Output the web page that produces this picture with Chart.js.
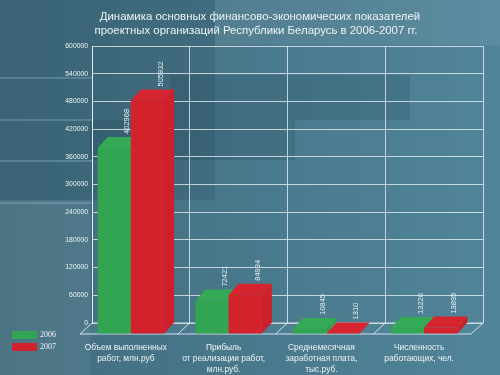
<!DOCTYPE html>
<html>
<head>
<meta charset="utf-8">
<script src="https://cdn.jsdelivr.net/npm/chart.js@4.4.1/dist/chart.umd.min.js"></script>
<style>
  html, body { margin: 0; padding: 0; background: #48788c; }
  #wrap { width: 500px; height: 375px; position: relative; }
</style>
</head>
<body>
<div id="wrap"><canvas id="chart" width="500" height="375"></canvas></div>
<script>
var titleLines = [
  "Динамика основных финансово-экономических показателей",
  "проектных организаций Республики Беларусь в 2006-2007 гг."
];
var categories = [
  ["Объем выполненных", "работ, млн.руб"],
  ["Прибыль", "от реализации работ,", "млн.руб."],
  ["Среднемесячная", "заработная плата,", "тыс.руб."],
  ["Численность", "работающих, чел."]
];
var years = ["2006", "2007"];
var values2006 = [402968, 72421, 10845, 13220];
var values2007 = [505932, 84934, 1310, 13895];
var yTicks = [0, 60000, 120000, 180000, 240000, 300000, 360000, 420000, 480000, 540000, 600000];

var DX = 10;
var DY = 11;
var FRONT = ["#31a552", "#d3222c"];
var TOP = ["#34a956", "#d6252f"];
var SIDE = ["#2f9f4f", "#cd202a"];

var backgroundPlugin = {
  id: "bg",
  beforeDraw: function (chart) {
    var ctx = chart.ctx;
    ctx.save();
    var g = ctx.createLinearGradient(0, 0, 500, 0);
    g.addColorStop(0, "#416c7e");
    g.addColorStop(1, "#518599");
    ctx.fillStyle = g;
    ctx.fillRect(0, 0, 500, 375);
    ctx.fillStyle = "rgba(30,60,75,0.18)";
    ctx.fillRect(0, 0, 215, 200);
    ctx.fillRect(170, 75, 240, 45);
    ctx.fillRect(90, 120, 205, 40);
    ctx.fillStyle = "rgba(255,255,255,0.06)";
    ctx.fillRect(215, 0, 285, 45);
    ctx.fillRect(0, 200, 90, 175);
    ctx.fillStyle = "rgba(170,215,230,0.25)";
    ctx.fillRect(0, 77, 92, 2);
    ctx.fillRect(0, 119, 92, 2);
    ctx.fillRect(0, 160, 92, 2);
    ctx.fillRect(0, 202, 92, 2);
    ctx.restore();
  }
};

var titlePlugin = {
  id: "titleText",
  afterDraw: function (chart) {
    var ctx = chart.ctx;
    ctx.save();
    ctx.fillStyle = "#eef3f5";
    ctx.font = "11.4px 'Liberation Sans', Arial, sans-serif";
    ctx.textAlign = "center";
    ctx.textBaseline = "middle";
    ctx.fillText(titleLines[0], 260, 17);
    ctx.fillText(titleLines[1], 256, 31);
    ctx.restore();
  }
};

var floorPlugin = {
  id: "floor",
  beforeDatasetsDraw: function (chart) {
    var ctx = chart.ctx;
    var a = chart.chartArea;
    var yb = chart.scales.y.getPixelForValue(0);
    ctx.save();
    ctx.fillStyle = "rgba(90,140,160,0.25)";
    ctx.strokeStyle = "rgba(235,245,250,0.85)";
    ctx.lineWidth = 1;
    ctx.beginPath();
    ctx.moveTo(a.left, yb);
    ctx.lineTo(a.right, yb);
    ctx.lineTo(a.right - DX - 2, yb + DY);
    ctx.lineTo(a.left - DX - 2, yb + DY);
    ctx.closePath();
    ctx.fill();
    ctx.stroke();
    var step = (a.right - a.left) / categories.length;
    for (var i = 1; i < categories.length * 2; i++) {
      var x = a.left + step * i / 2;
      ctx.beginPath();
      ctx.moveTo(x, yb);
      ctx.lineTo(x - DX - 2, yb + DY);
      ctx.stroke();
    }
    ctx.restore();
  }
};

var bar3dPlugin = {
  id: "bar3d",
  afterDatasetsDraw: function (chart) {
    var ctx = chart.ctx;
    ctx.save();
    var metas = [chart.getDatasetMeta(0), chart.getDatasetMeta(1)];
    for (var i = 0; i < categories.length; i++) {
      for (var d = 0; d < metas.length; d++) {
        var el = metas[d].data[i];
        var p = el.getProps(["x", "y", "base", "width"], true);
        var bx0 = p.x - p.width / 2;
        var bx1 = p.x + p.width / 2;
        var by = p.y;
        var base = p.base;
        var fx0 = bx0 - DX;
        var fx1 = bx1 - DX;
        var fy = by + DY;
        var fbase = base + DY;
        // top
        ctx.fillStyle = TOP[d];
        ctx.beginPath();
        ctx.moveTo(fx0, fy);
        ctx.lineTo(bx0, by);
        ctx.lineTo(bx1, by);
        ctx.lineTo(fx1, fy);
        ctx.closePath();
        ctx.fill();
        // right side
        ctx.fillStyle = SIDE[d];
        ctx.beginPath();
        ctx.moveTo(fx1, fy);
        ctx.lineTo(bx1, by);
        ctx.lineTo(bx1, base);
        ctx.lineTo(fx1, fbase);
        ctx.closePath();
        ctx.fill();
        // front
        ctx.fillStyle = FRONT[d];
        ctx.fillRect(fx0, fy, fx1 - fx0, fbase - fy);
        // value label
        var vals = d === 0 ? values2006 : values2007;
        ctx.save();
        ctx.translate(p.x + 3, by - 3);
        ctx.rotate(-Math.PI / 2);
        ctx.fillStyle = "#e8f0f3";
        ctx.font = "7.5px 'Liberation Sans', Arial, sans-serif";
        ctx.textAlign = "left";
        ctx.textBaseline = "middle";
        ctx.fillText(String(vals[i]), 0, 0);
        ctx.restore();
      }
    }
    ctx.restore();
  }
};

var legendPlugin = {
  id: "legendBox",
  afterDraw: function (chart) {
    var ctx = chart.ctx;
    ctx.save();
    ctx.font = "8px 'Liberation Serif', 'Times New Roman', serif";
    ctx.textBaseline = "middle";
    ctx.textAlign = "left";
    for (var i = 0; i < years.length; i++) {
      var y = 331 + i * 12;
      ctx.fillStyle = FRONT[i];
      ctx.fillRect(12, y, 25, 8);
      ctx.fillStyle = "#eef3f5";
      ctx.fillText(years[i], 40, y + 4);
    }
    ctx.restore();
  }
};

var chart = new Chart(document.getElementById("chart"), {
  type: "bar",
  data: {
    labels: categories,
    datasets: [
      { label: years[0], data: values2006, backgroundColor: "rgba(0,0,0,0)", borderWidth: 0 },
      { label: years[1], data: values2007, backgroundColor: "rgba(0,0,0,0)", borderWidth: 0 }
    ]
  },
  options: {
    responsive: false,
    animation: false,
    events: [],
    layout: { padding: { left: 0, right: 17, top: 46, bottom: 0 } },
    datasets: { bar: { categoryPercentage: 0.68, barPercentage: 1.0 } },
    plugins: {
      legend: { display: false },
      title: { display: false },
      tooltip: { enabled: false }
    },
    scales: {
      x: {
        grid: {
          color: "rgba(235,245,250,0.75)",
          drawTicks: false
        },
        border: { display: false },
        ticks: {
          color: "#eef3f5",
          font: { family: "'Liberation Sans', Arial, sans-serif", size: 8.4, lineHeight: 1.3 },
          padding: 19,
          labelOffset: -15,
          maxRotation: 0,
          autoSkip: false
        },
        afterFit: function (scale) { scale.height = 52; }
      },
      y: {
        min: 0,
        max: 600000,
        afterBuildTicks: function (scale) {
          scale.ticks = yTicks.map(function (v) { return { value: v }; });
        },
        grid: {
          color: "rgba(235,245,250,0.75)",
          drawTicks: false
        },
        border: { display: true, color: "rgba(235,245,250,0.85)" },
        ticks: {
          color: "#eef3f5",
          font: { family: "'Liberation Sans', Arial, sans-serif", size: 6.8 },
          padding: 4,
          callback: function (v) { return String(v); }
        },
        afterFit: function (scale) { scale.width = 92; }
      }
    }
  },
  plugins: [backgroundPlugin, floorPlugin, bar3dPlugin, titlePlugin, legendPlugin]
});
</script>
</body>
</html>
